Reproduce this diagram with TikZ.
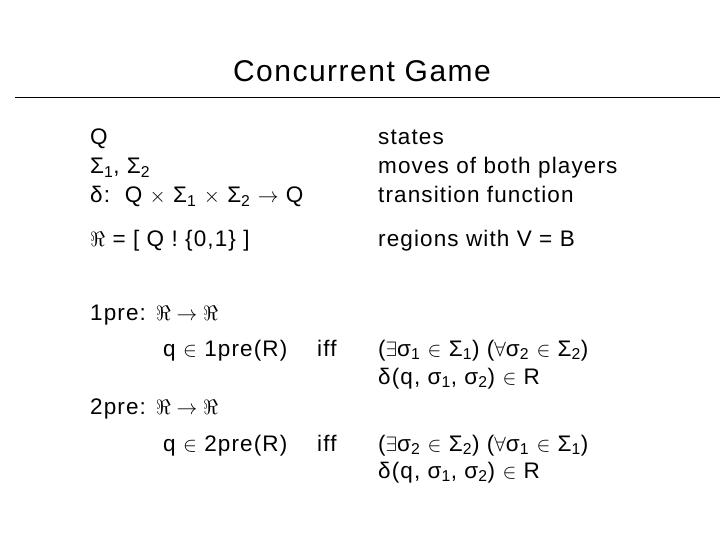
\documentclass[tikz,border=0pt]{standalone}
\usepackage{fontspec}
\setmainfont[LetterSpace=5]{Liberation Sans}
\newcommand{\lo}[1]{\textsubscript{#1}}
\begin{document}
\begin{tikzpicture}[x=1pt,y=-1pt,
  txt/.style={anchor=base west,inner sep=0pt,font=\fontsize{22.5}{26}\selectfont},
  ttl/.style={anchor=base,inner sep=0pt,font=\fontsize{30}{34}\selectfont}]
\useasboundingbox (0,0) rectangle (720,540);
\node[ttl] (title) at (362,82) {Concurrent Game};
\coordinate (l1) at (15,97); \coordinate (l2) at (720,97);
\draw[line width=0.8pt] (l1) -- (l2);
\node[txt] (q) at (90,145) {Q};
\node[txt] (s) at (90,174) {Σ\lo{1}, Σ\lo{2}};
\node[txt] (d) at (90,203) {δ:\ \ Q $\times$ Σ\lo{1} $\times$ Σ\lo{2} $\rightarrow$ Q};
\node[txt] (r) at (90,246) {$\Re$ = [ Q ! \{0,1\} ]};
\node[txt] (st) at (378,145) {states};
\node[txt] (mv) at (378,174) {moves of both players};
\node[txt] (tf) at (378,203) {transition function};
\node[txt] (rg) at (378,246) {regions with V = B};
\node[txt] (p1) at (90,320) {1pre: $\Re\rightarrow\Re$};
\node[txt] (q1) at (163,356) {q $\in$ 1pre(R)};
\node[txt] (i1) at (317,356) {iff};
\node[txt] (c1) at (378,356) {($\exists$σ\lo{1} $\in$ Σ\lo{1}) ($\forall$σ\lo{2} $\in$ Σ\lo{2})};
\node[txt] (e1) at (378,384) {δ(q, σ\lo{1}, σ\lo{2}) $\in$ R};
\node[txt] (p2) at (90,414) {2pre: $\Re\rightarrow\Re$};
\node[txt] (q2) at (163,451) {q $\in$ 2pre(R)};
\node[txt] (i2) at (317,451) {iff};
\node[txt] (c2) at (378,451) {($\exists$σ\lo{2} $\in$ Σ\lo{2}) ($\forall$σ\lo{1} $\in$ Σ\lo{1})};
\node[txt] (e2) at (378,478) {δ(q, σ\lo{1}, σ\lo{2}) $\in$ R};
\end{tikzpicture}
\end{document}
